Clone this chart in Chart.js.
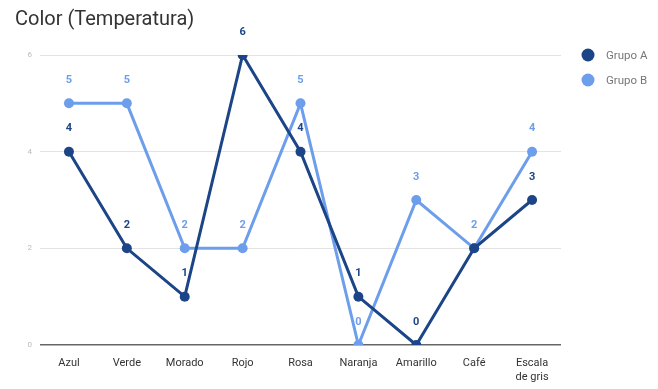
<!DOCTYPE html>
<html>
<head>
<meta charset="utf-8">
<script src="https://cdn.jsdelivr.net/npm/chart.js@4/dist/chart.umd.min.js"></script>
<style>
html,body{margin:0;padding:0;background:#fff;}
#wrap{width:658px;height:389px;position:relative;}
</style>
</head>
<body>
<div id="wrap"><canvas id="c" width="658" height="389"></canvas></div>
<script>
const categories = ['Azul','Verde','Morado','Rojo','Rosa','Naranja','Amarillo','Café',['Escala','de gris']];
const grupoA = [4,2,1,6,4,1,0,2,3];
const grupoB = [5,5,2,2,5,0,3,2,4];
const yTicks = [0,2,4,6];
const seriesNames = ['Grupo A','Grupo B'];
const colorA = '#1c4587';
const colorB = '#6d9eeb';

const labelPlugin = {
  id:'labels',
  afterDatasetsDraw(chart){
    const ctx = chart.ctx;
    ctx.save();
    const metas = chart.data.datasets.map((d,i)=>chart.getDatasetMeta(i));
    chart.data.datasets.forEach((ds,i)=>{
      metas[i].data.forEach((pt,j)=>{
        // skip a label when a later series has the same value at that point
        if (i < chart.data.datasets.length-1 && chart.data.datasets[i+1].data[j] === ds.data[j]) return;
        ctx.font = 'bold 11px Roboto, "Open Sans", sans-serif';
        ctx.fillStyle = ds.borderColor;
        ctx.textAlign='center';
        ctx.textBaseline='middle';
        ctx.fillText(String(ds.data[j]), pt.x, pt.y-23);
      });
    });
    ctx.restore();
  }
};
const decoPlugin = {
  id:'deco',
  afterDraw(chart){
    const ctx = chart.ctx;
    ctx.save();
    ctx.font = '20px Roboto, "Open Sans", sans-serif';
    ctx.fillStyle = '#333';
    ctx.textAlign='left';
    ctx.textBaseline='middle';
    ctx.fillText('Color (Temperatura)', 15, 20);
    const cols=[colorA,colorB];
    seriesNames.forEach((n,i)=>{
      const y = 55 + i*25;
      ctx.beginPath();
      ctx.arc(588,y,6.5,0,Math.PI*2);
      ctx.fillStyle=cols[i];
      ctx.fill();
      ctx.font='11.5px Roboto, "Open Sans", sans-serif';
      ctx.fillStyle='#777';
      ctx.fillText(n,606,y+1);
    });
    ctx.restore();
  }
};

new Chart(document.getElementById('c'),{
  type:'line',
  data:{
    labels:categories,
    datasets:[
      {label:seriesNames[0],data:grupoA,borderColor:colorA,backgroundColor:colorA,borderWidth:3,pointRadius:5,pointBackgroundColor:colorA,pointBorderWidth:0,tension:0},
      {label:seriesNames[1],data:grupoB,borderColor:colorB,backgroundColor:colorB,borderWidth:3,pointRadius:5,pointBackgroundColor:colorB,pointBorderWidth:0,tension:0}
    ]
  },
  options:{
    responsive:false,
    animation:false,
    events:[],
    layout:{padding:{left:0,right:97,top:55,bottom:0}},
    plugins:{legend:{display:false},tooltip:{enabled:false},title:{display:false}},
    scales:{
      x:{
        offset:true,
        grid:{display:false},
        border:{display:false},
        ticks:{color:'#333',font:{size:11,family:'Roboto, "Open Sans", sans-serif'},padding:4,maxRotation:0,autoSkip:false},
        afterFit(s){s.height=44;}
      },
      y:{
        min:0,max:6,
        afterBuildTicks(s){s.ticks=yTicks.map(v=>({value:v}));},
        grid:{color:(c)=>c.tick.value===0?'#666':'#e3e3e3',lineWidth:(c)=>c.tick.value===0?1.5:1,drawTicks:false},
        border:{display:false},
        ticks:{color:'#bbb',font:{size:8,family:'Roboto, "Open Sans", sans-serif'},padding:8},
        afterFit(s){s.width=40;}
      }
    }
  },
  plugins:[labelPlugin,decoPlugin]
});
</script>
</body>
</html>
